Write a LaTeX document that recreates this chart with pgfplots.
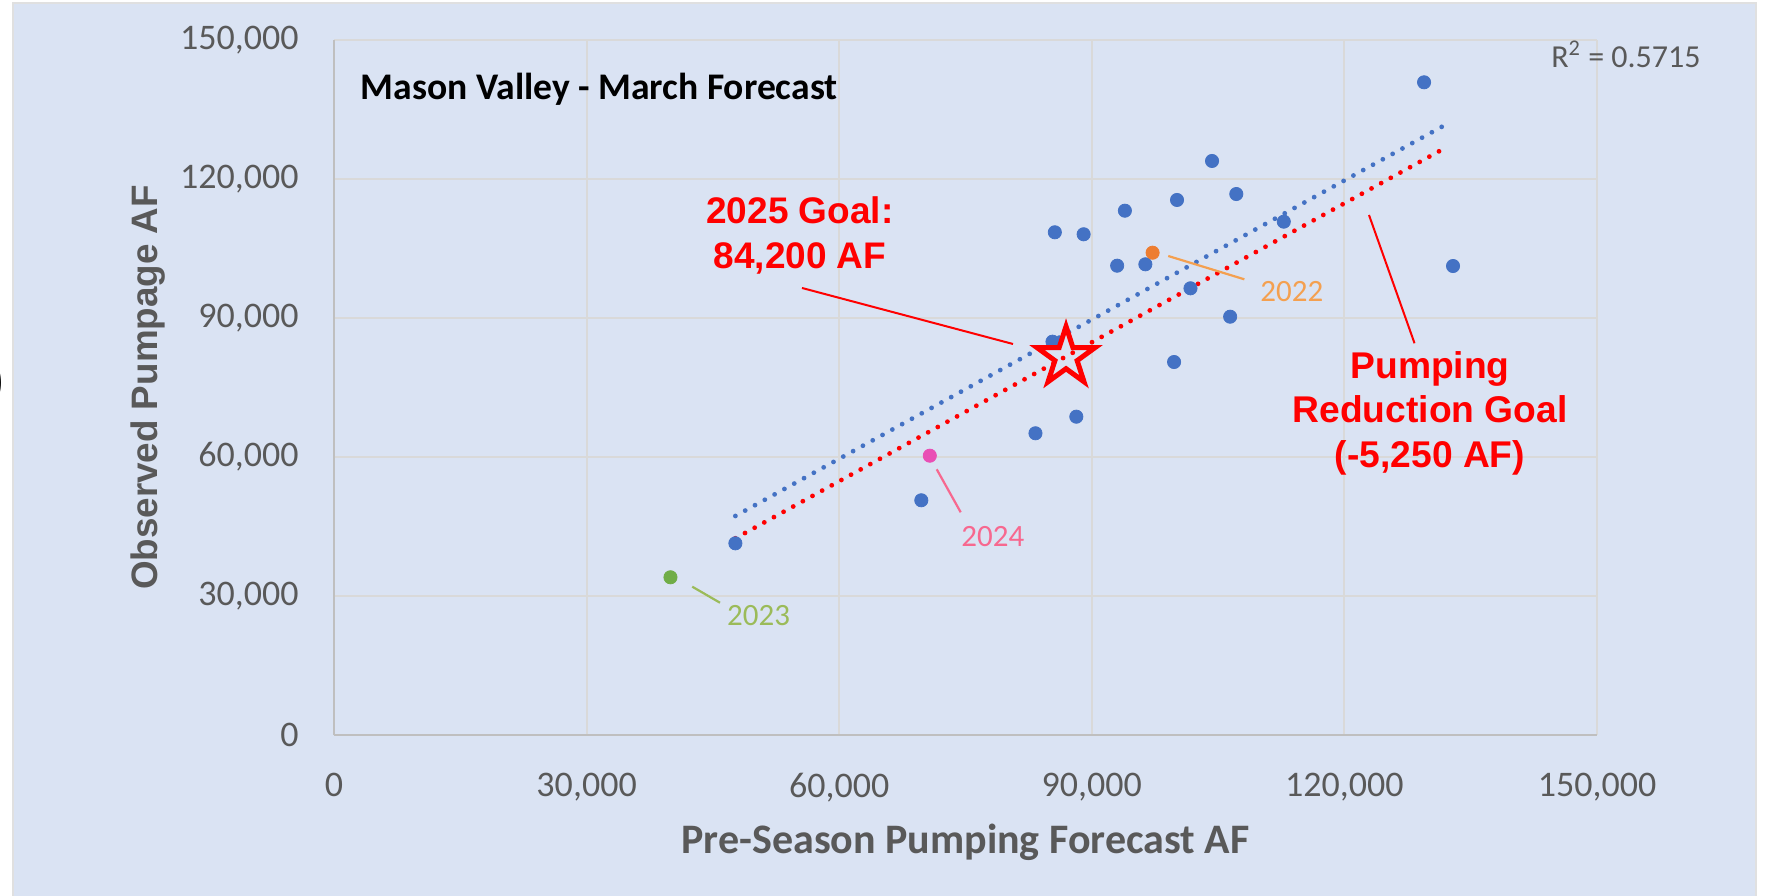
\documentclass[border=0pt]{standalone}
\usepackage{fontspec}
\setmainfont{Carlito}
\newfontfamily\arialf{Liberation Sans}
\usepackage{pgfplots}
\pgfplotsset{compat=1.18}
\definecolor{bgblue}{HTML}{DAE3F3}
\definecolor{ptblue}{HTML}{4472C4}
\definecolor{ptorange}{HTML}{ED7D31}
\definecolor{ptgreen}{HTML}{70AD47}
\definecolor{ptpink}{HTML}{E94FB5}
\definecolor{lblorange}{HTML}{F4A050}
\definecolor{lblgreen}{HTML}{9BBB59}
\definecolor{lblpink}{HTML}{F7688F}
\definecolor{txtgray}{HTML}{595959}
\definecolor{gridgray}{HTML}{D9D9D9}
\definecolor{axgray}{HTML}{BFBFBF}
\definecolor{goalred}{HTML}{FF0000}

% hollow five-point star
\pgfdeclareplotmark{hollowstar}{%
  \pgfpathmoveto{\pgfpointpolar{90}{\pgfplotmarksize}}%
  \pgfpathlineto{\pgfpointpolar{126}{0.382\pgfplotmarksize}}%
  \pgfpathlineto{\pgfpointpolar{162}{\pgfplotmarksize}}%
  \pgfpathlineto{\pgfpointpolar{198}{0.382\pgfplotmarksize}}%
  \pgfpathlineto{\pgfpointpolar{234}{\pgfplotmarksize}}%
  \pgfpathlineto{\pgfpointpolar{270}{0.382\pgfplotmarksize}}%
  \pgfpathlineto{\pgfpointpolar{306}{\pgfplotmarksize}}%
  \pgfpathlineto{\pgfpointpolar{342}{0.382\pgfplotmarksize}}%
  \pgfpathlineto{\pgfpointpolar{18}{\pgfplotmarksize}}%
  \pgfpathlineto{\pgfpointpolar{54}{0.382\pgfplotmarksize}}%
  \pgfpathclose
  \pgfusepathqstroke}

\begin{document}
\begin{tikzpicture}
\useasboundingbox (0,0) rectangle (883.5pt,447.5pt);
\fill[white] (0,0) rectangle (883.5pt,447.5pt);
\filldraw[fill=bgblue,draw=black!12,line width=1pt] (6.5pt,-2pt) rectangle (878pt,446pt);
\node[font=\fontsize{26}{26}\selectfont,anchor=east,inner sep=0pt] at (3pt,256pt) {)};
\begin{axis}[
  at={(167pt,80pt)}, anchor=south west,
  width=631.5pt, height=347.5pt, scale only axis,
  xmin=0, xmax=150000, ymin=0, ymax=150000,
  xtick={0,30000,...,150000}, ytick={0,30000,...,150000},
  scaled ticks=false,
  /pgf/number format/.cd, fixed, precision=0, 1000 sep={,}, assume math mode=true,
  /pgfplots/.cd,
  axis x line*=bottom, axis y line*=left,
  axis line style={draw=axgray,line width=1.2pt,-},
  major tick length=0pt,
  grid=major, grid style={draw=gridgray,line width=1pt},
  tick label style={font=\fontsize{18}{18}\selectfont,text=txtgray},
  yticklabel style={anchor=east,inner sep=0pt,xshift=-17.5pt},
  xticklabel style={anchor=north,inner sep=0pt,yshift=-19pt},
  xlabel={Pre-Season Pumping Forecast AF},
  ylabel={Observed Pumpage AF},
  xlabel style={at={(axis description cs:0.5,-0.1698)},anchor=base,
    font=\bfseries\fontsize{21}{21}\selectfont,text=txtgray},
  ylabel style={at={(axis description cs:-0.1394,0.5)},anchor=base,rotate=0,
    font=\arialf\bfseries\fontsize{18.4}{18.4}\selectfont,text=txtgray},
  clip=false
]
% observed years
\addplot[only marks,mark=*,mark size=3.3pt,color=ptblue] coordinates {
(129460,140870) (104280,123890) (107160,116760) (100120,115470)
(93930,113160) (112800,110790) (85610,108500) (89030,108070)
(93010,101290) (96360,101590) (132900,101220) (101720,96410)
(106430,90280) (85330,84890) (99770,80500) (88160,68700)
(83310,65120) (69750,50660) (47670,41370)
};
\addplot[only marks,mark=*,mark size=3.3pt,color=ptorange] coordinates {(97220,104090)};
\addplot[only marks,mark=*,mark size=3.3pt,color=ptpink] coordinates {(70760,60280)};
\addplot[only marks,mark=*,mark size=3.3pt,color=ptgreen] coordinates {(39960,34040)};
% trend line and reduction goal line
\addplot[ptblue,line width=2.4pt,line cap=round,dash pattern=on 0pt off 5.6pt] coordinates {(47670,47270) (131890,131590)};
\addplot[goalred,line width=2.4pt,line cap=round,dash pattern=on 0pt off 5.5pt] coordinates {(47670,42450) (131890,126630)};
% 2025 goal
\addplot[only marks,mark=hollowstar,mark size=15.3pt,color=goalred,
  mark options={line width=2.5pt,miter limit=10}] coordinates {(86940,81580)};

\node[anchor=base west,inner sep=0pt,font=\bfseries\fontsize{18.8}{18.8}\selectfont]
  at (axis cs:3150,137050) {Mason Valley - March Forecast};
\node[anchor=base east,inner sep=0pt,font=\fontsize{16}{16}\selectfont,text=txtgray]
  at (axis cs:162350,143960) {R\textsuperscript{2} = 0.5715};

\node[anchor=base,inner sep=0pt,font=\arialf\bfseries\fontsize{18.5}{18.5}\selectfont,text=goalred]
  at (axis cs:55340,110290) {2025 Goal:};
\node[anchor=base,inner sep=0pt,font=\arialf\bfseries\fontsize{18.5}{18.5}\selectfont,text=goalred]
  at (axis cs:55340,100790) {84,200 AF};
\draw[goalred,line width=1pt] (axis cs:55580,96480) -- (axis cs:80640,84390);

\node[anchor=base,inner sep=0pt,font=\arialf\bfseries\fontsize{18.6}{18.6}\selectfont,text=goalred]
  at (axis cs:130170,77050) {Pumping};
\node[anchor=base,inner sep=0pt,font=\arialf\bfseries\fontsize{18.6}{18.6}\selectfont,text=goalred]
  at (axis cs:130170,67340) {Reduction Goal};
\node[anchor=base,inner sep=0pt,font=\arialf\bfseries\fontsize{18.6}{18.6}\selectfont,text=goalred]
  at (axis cs:130170,57630) {(-5,250 AF)};
\draw[goalred,line width=1pt] (axis cs:122920,112230) -- (axis cs:128330,84540);

\draw[lblorange,line width=1.1pt] (axis cs:99080,103380) -- (axis cs:108120,98350);
\node[anchor=base west,inner sep=0pt,font=\fontsize{15.5}{15.5}\selectfont,text=lblorange]
  at (axis cs:109980,93500) {2022};
\draw[lblpink,line width=1.1pt] (axis cs:71580,57350) -- (axis cs:74430,48070);
\node[anchor=base west,inner sep=0pt,font=\fontsize{15.5}{15.5}\selectfont,text=lblpink]
  at (axis cs:74470,40640) {2024};
\draw[lblgreen,line width=1.1pt] (axis cs:42550,32010) -- (axis cs:45840,28550);
\node[anchor=base west,inner sep=0pt,font=\fontsize{15.5}{15.5}\selectfont,text=lblgreen]
  at (axis cs:46650,23530) {2023};
\end{axis}
\end{tikzpicture}
\end{document}
